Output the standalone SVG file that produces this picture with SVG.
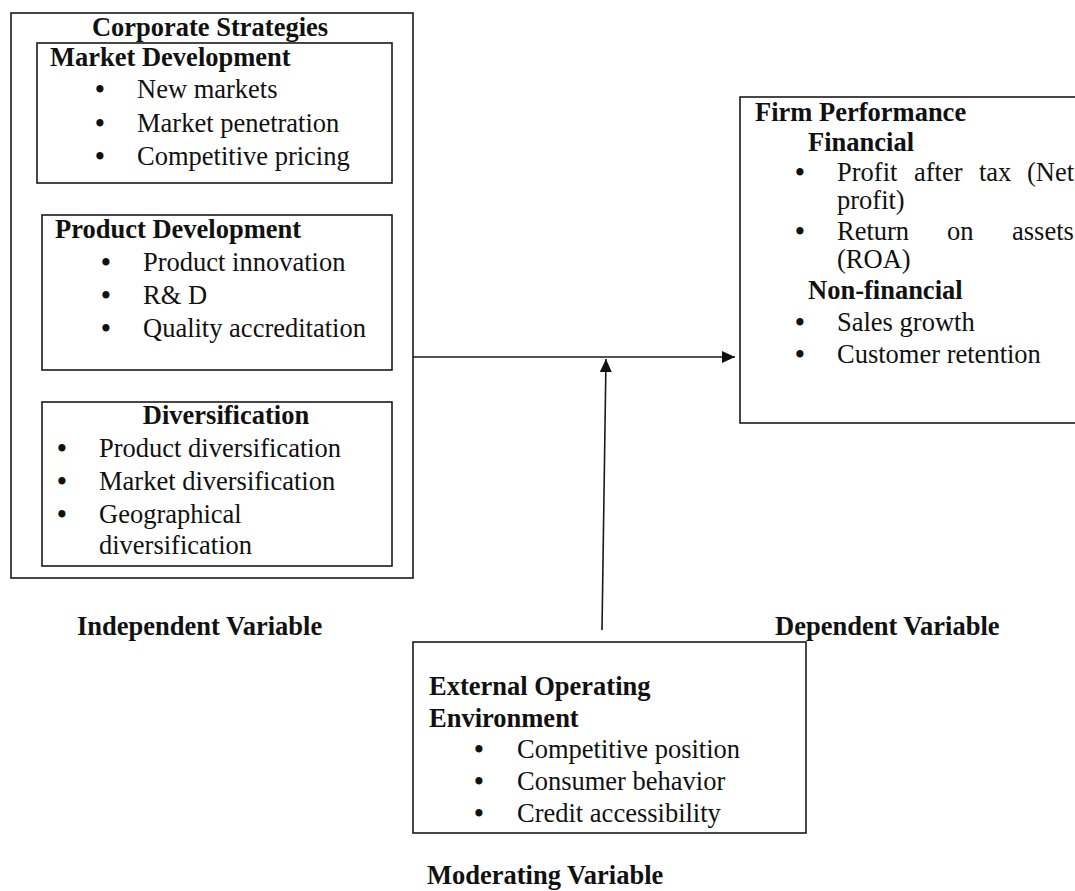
<svg xmlns="http://www.w3.org/2000/svg" width="1075" height="891" viewBox="0 0 1075 891">
<style>
text{font-family:"Liberation Serif","Times New Roman",serif;font-size:26.5px;fill:#111}
.b{font-weight:bold}
.m{text-anchor:middle}
.bl{text-anchor:middle;font-weight:bold}
.box{fill:none;stroke:#1a1a1a;stroke-width:1.6}
.conn{fill:none;stroke:#1a1a1a;stroke-width:1.6}
</style>
<defs>
<marker id="ah" viewBox="0 0 13 12" refX="13" refY="6" markerWidth="13" markerHeight="12" markerUnits="userSpaceOnUse" orient="auto">
<path d="M0,0 L13,6 L0,12 z" fill="#111"/>
</marker>
</defs>
<rect width="1075" height="891" fill="#fff"/>

<g id="corporate-strategies">
<rect class="box" x="11" y="13" width="402" height="565"/>
<text class="b m" x="210" y="36">Corporate Strategies</text>
</g>

<g id="market-development">
<rect class="box" x="37" y="43" width="355" height="140"/>
<text class="b" x="50" y="66">Market Development</text>
<text class="bl" x="100" y="98">•</text><text x="137" y="98">New markets</text>
<text class="bl" x="100" y="132">•</text><text x="137" y="132">Market penetration</text>
<text class="bl" x="100" y="165">•</text><text x="137" y="165">Competitive pricing</text>
</g>

<g id="product-development">
<rect class="box" x="42" y="215" width="350" height="155"/>
<text class="b" x="55" y="238">Product Development</text>
<text class="bl" x="106" y="271">•</text><text x="143" y="271">Product innovation</text>
<text class="bl" x="106" y="304">•</text><text x="143" y="304">R&amp; D</text>
<text class="bl" x="106" y="337">•</text><text x="143" y="337">Quality accreditation</text>
</g>

<g id="diversification">
<rect class="box" x="42" y="402" width="350" height="164"/>
<text class="b m" x="226" y="424">Diversification</text>
<text class="bl" x="62" y="457">•</text><text x="99" y="457">Product diversification</text>
<text class="bl" x="62" y="490">•</text><text x="99" y="490">Market diversification</text>
<text class="bl" x="62" y="523">•</text><text x="99" y="523">Geographical</text>
<text x="99" y="554">diversification</text>
</g>

<g id="firm-performance">
<rect class="box" x="740" y="97" width="345" height="326"/>
<text class="b" x="755" y="121">Firm Performance</text>
<text class="b" x="808" y="151">Financial</text>
<text class="bl" x="800" y="181">•</text>
<text x="837" y="181">Profit</text><text x="914" y="181">after</text><text x="979" y="181">tax</text><text x="1027" y="181">(Net</text>
<text x="837" y="209">profit)</text>
<text class="bl" x="800" y="240">•</text>
<text x="837" y="240">Return</text><text x="947" y="240">on</text><text x="1012" y="240">assets</text>
<text x="837" y="268">(ROA)</text>
<text class="b" x="808" y="299">Non-financial</text>
<text class="bl" x="800" y="331">•</text><text x="837" y="331">Sales growth</text>
<text class="bl" x="800" y="363">•</text><text x="837" y="363">Customer retention</text>
</g>

<g id="external-environment">
<rect class="box" x="413" y="642" width="393" height="191"/>
<text class="b" x="429" y="695">External Operating</text>
<text class="b" x="429" y="727">Environment</text>
<text class="bl" x="479" y="758">•</text><text x="517" y="758">Competitive position</text>
<text class="bl" x="479" y="790">•</text><text x="517" y="790">Consumer behavior</text>
<text class="bl" x="479" y="822">•</text><text x="517" y="822">Credit accessibility</text>
</g>

<g id="labels">
<text class="b" x="77" y="635">Independent Variable</text>
<text class="b" x="775" y="635">Dependent Variable</text>
<text class="b" x="427" y="884">Moderating Variable</text>
</g>

<g id="connectors">
<line class="conn" x1="413" y1="357" x2="735" y2="357" marker-end="url(#ah)"/>
<line class="conn" x1="602" y1="630" x2="606" y2="359" marker-end="url(#ah)"/>
</g>
</svg>
